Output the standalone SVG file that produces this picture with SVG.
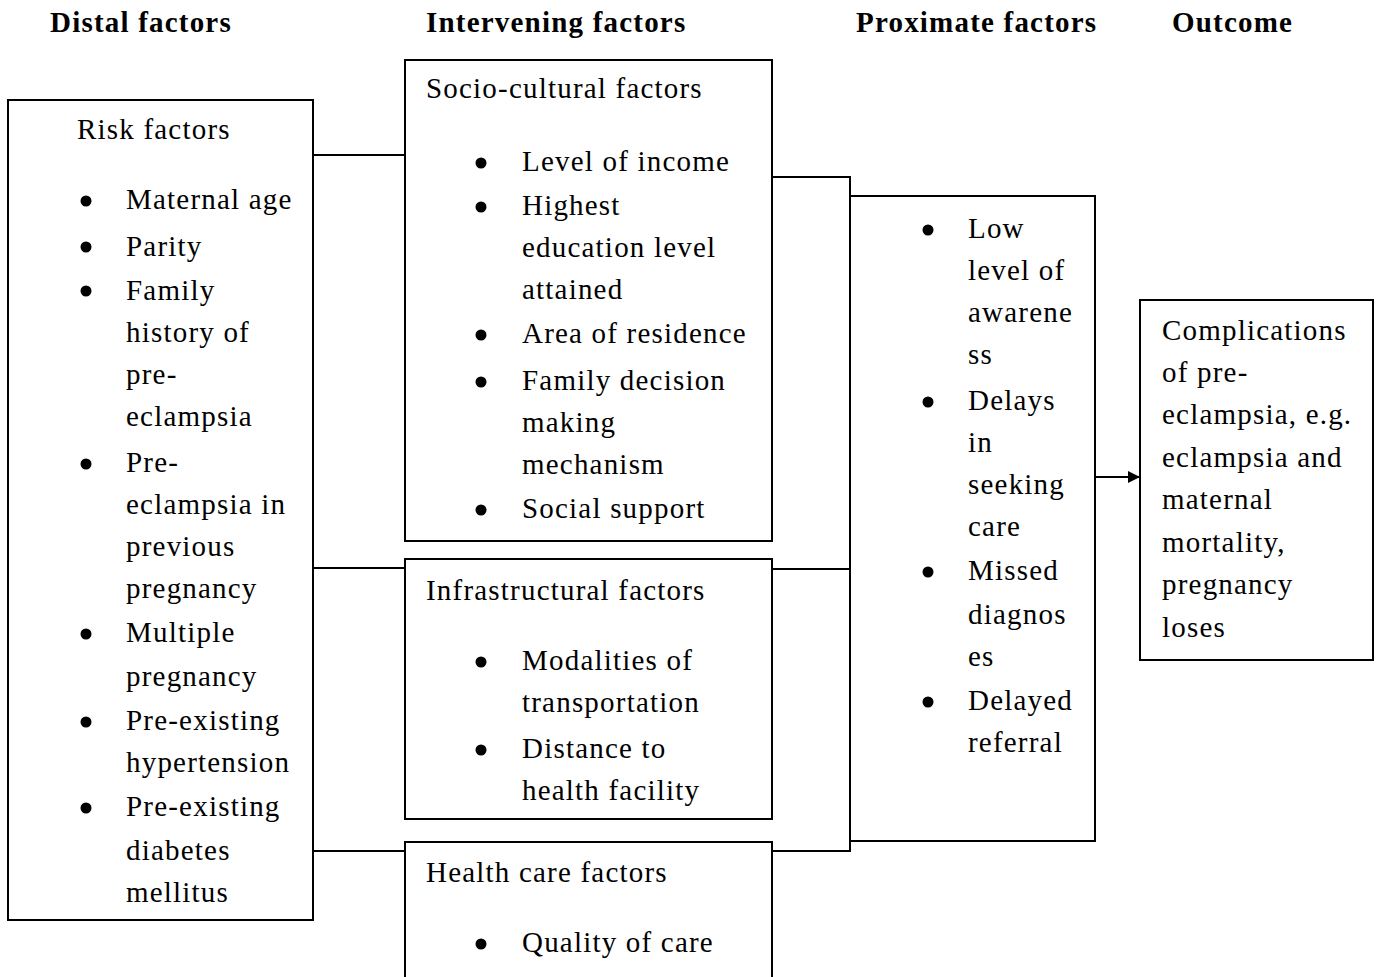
<svg xmlns="http://www.w3.org/2000/svg" width="1380" height="977" viewBox="0 0 1380 977">
<defs>
<style>
text{font-family:"Liberation Serif","Times New Roman",serif;font-size:29px;letter-spacing:1.2px;fill:#000}
.h{font-weight:bold}
.box{fill:#fff;stroke:#000;stroke-width:2}
.ln{fill:none;stroke:#000;stroke-width:2}
.dot{fill:#000}
</style>
<marker id="arr" viewBox="0 0 10 10" refX="10" refY="5" markerWidth="6" markerHeight="6" orient="auto" markerUnits="strokeWidth">
<path d="M0,0 L10,5 L0,10 z" fill="#000"/>
</marker>
</defs>
<rect width="1380" height="977" fill="#fff"/>

<g id="headers">
<text class="h" x="50" y="32">Distal factors</text>
<text class="h" x="426" y="32">Intervening factors</text>
<text class="h" x="856" y="32">Proximate factors</text>
<text class="h" x="1172" y="32">Outcome</text>
</g>

<g id="connectors">
<line class="ln" x1="313" y1="155" x2="405" y2="155"/>
<line class="ln" x1="313" y1="568" x2="405" y2="568"/>
<line class="ln" x1="313" y1="851" x2="405" y2="851"/>
<line class="ln" x1="772" y1="177" x2="850" y2="177"/>
<line class="ln" x1="772" y1="569" x2="850" y2="569"/>
<line class="ln" x1="772" y1="851" x2="851" y2="851"/>
<line class="ln" x1="850" y1="176" x2="850" y2="852"/>
<line class="ln" x1="1095" y1="477" x2="1140" y2="477" marker-end="url(#arr)"/>
</g>

<g id="risk-factors">
<rect class="box" x="8" y="100" width="305" height="820"/>
<text x="77" y="139">Risk factors</text>
<circle class="dot" cx="86" cy="201" r="5.5"/><text x="126" y="209">Maternal age</text>
<circle class="dot" cx="86" cy="247" r="5.5"/><text x="126" y="256">Parity</text>
<circle class="dot" cx="86" cy="291" r="5.5"/><text x="126" y="300">Family</text>
<text x="126" y="342">history of</text>
<text x="126" y="384">pre-</text>
<text x="126" y="426">eclampsia</text>
<circle class="dot" cx="86" cy="464" r="5.5"/><text x="126" y="472">Pre-</text>
<text x="126" y="514">eclampsia in</text>
<text x="126" y="556">previous</text>
<text x="126" y="598">pregnancy</text>
<circle class="dot" cx="86" cy="634" r="5.5"/><text x="126" y="642">Multiple</text>
<text x="126" y="686">pregnancy</text>
<circle class="dot" cx="86" cy="722" r="5.5"/><text x="126" y="730">Pre-existing</text>
<text x="126" y="772">hypertension</text>
<circle class="dot" cx="86" cy="808" r="5.5"/><text x="126" y="816">Pre-existing</text>
<text x="126" y="860">diabetes</text>
<text x="126" y="902">mellitus</text>
</g>

<g id="socio-cultural">
<rect class="box" x="405" y="60" width="367" height="481"/>
<text x="426" y="98">Socio-cultural factors</text>
<circle class="dot" cx="481" cy="163" r="5.5"/><text x="522" y="171">Level of income</text>
<circle class="dot" cx="481" cy="207" r="5.5"/><text x="522" y="215">Highest</text>
<text x="522" y="257">education level</text>
<text x="522" y="299">attained</text>
<circle class="dot" cx="481" cy="335" r="5.5"/><text x="522" y="343">Area of residence</text>
<circle class="dot" cx="481" cy="382" r="5.5"/><text x="522" y="390">Family decision</text>
<text x="522" y="432">making</text>
<text x="522" y="474">mechanism</text>
<circle class="dot" cx="481" cy="510" r="5.5"/><text x="522" y="518">Social support</text>
</g>

<g id="infrastructural">
<rect class="box" x="405" y="559" width="367" height="260"/>
<text x="426" y="600">Infrastructural factors</text>
<circle class="dot" cx="481" cy="662" r="5.5"/><text x="522" y="670">Modalities of</text>
<text x="522" y="712">transportation</text>
<circle class="dot" cx="481" cy="750" r="5.5"/><text x="522" y="758">Distance to</text>
<text x="522" y="800">health facility</text>
</g>

<g id="health-care">
<rect class="box" x="405" y="842" width="367" height="150"/>
<text x="426" y="882">Health care factors</text>
<circle class="dot" cx="481" cy="944" r="5.5"/><text x="522" y="952">Quality of care</text>
</g>

<g id="proximate">
<rect class="box" x="850" y="196" width="245" height="645"/>
<circle class="dot" cx="928" cy="230" r="5.5"/><text x="968" y="238">Low</text>
<text x="968" y="280">level of</text>
<text x="968" y="322">awarene</text>
<text x="968" y="364">ss</text>
<circle class="dot" cx="928" cy="402" r="5.5"/><text x="968" y="410">Delays</text>
<text x="968" y="452">in</text>
<text x="968" y="494">seeking</text>
<text x="968" y="536">care</text>
<circle class="dot" cx="928" cy="572" r="5.5"/><text x="968" y="580">Missed</text>
<text x="968" y="624">diagnos</text>
<text x="968" y="666">es</text>
<circle class="dot" cx="928" cy="702" r="5.5"/><text x="968" y="710">Delayed</text>
<text x="968" y="752">referral</text>
</g>

<g id="outcome">
<rect class="box" x="1140" y="300" width="233" height="360"/>
<text x="1162" y="340">Complications</text>
<text x="1162" y="382">of pre-</text>
<text x="1162" y="424">eclampsia, e.g.</text>
<text x="1162" y="467">eclampsia and</text>
<text x="1162" y="509">maternal</text>
<text x="1162" y="552">mortality,</text>
<text x="1162" y="594">pregnancy</text>
<text x="1162" y="637">loses</text>
</g>
</svg>
